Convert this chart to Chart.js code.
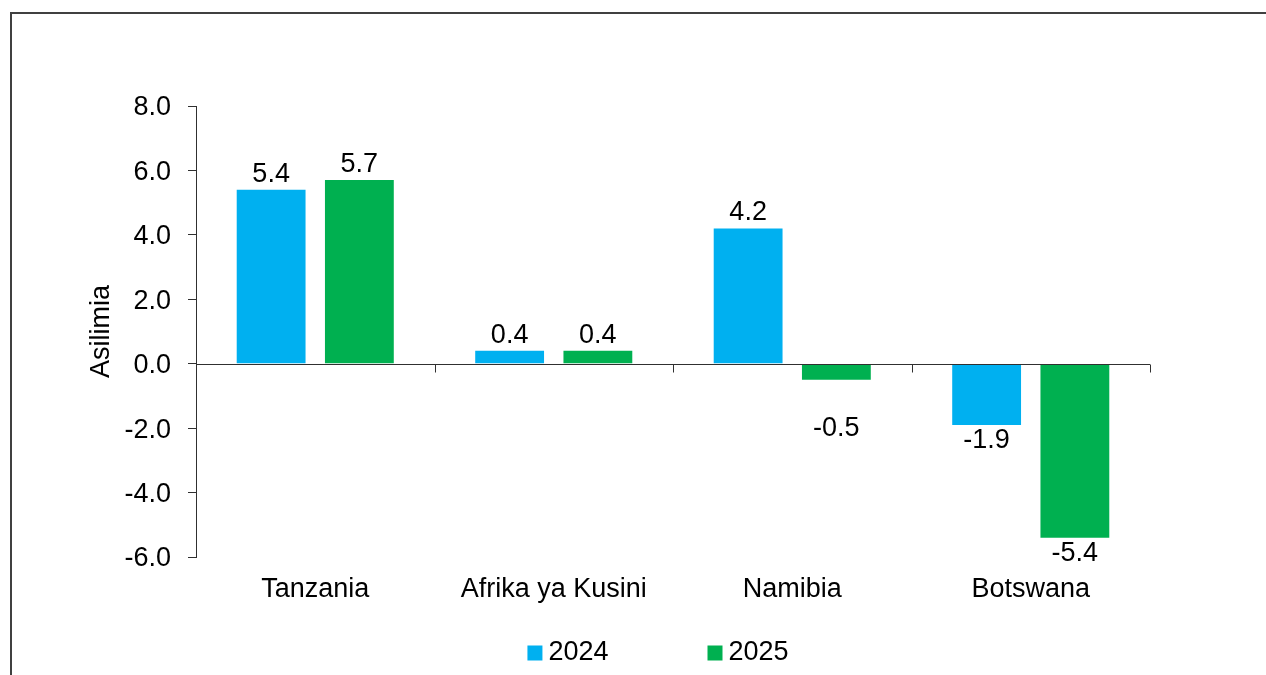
<!DOCTYPE html>
<html>
<head>
<meta charset="utf-8">
<script src="https://cdn.jsdelivr.net/npm/chart.js@4.4.1/dist/chart.umd.min.js"></script>
<style>
html, body { margin:0; padding:0; background:#fff; overflow:hidden; }
canvas { position:absolute; left:0; top:0; }
#moldura { position:absolute; left:10px; top:12px; width:1400px; height:800px; border:2px solid #404040; box-sizing:border-box; pointer-events:none; }
</style>
</head>
<body>
<canvas id="grafico" width="1266" height="675"></canvas>
<div id="moldura"></div>
<script>
// dados do grafico
var paises = ["Tanzania", "Afrika ya Kusini", "Namibia", "Botswana"];
var anos = ["2024", "2025"];
var valores2024 = [5.4, 0.4, 4.2, -1.9];
var valores2025 = [5.7, 0.4, -0.5, -5.4];
var eixoY = [-6, 8, 2]; // min, max, passo

// deslocamento extra (px) dos rotulos de valor
var ajuste2024 = [0, 0, 0, 0];
var ajuste2025 = [0, 0, 33, 0];

var fonte = '"Liberation Sans", Arial, sans-serif';
Chart.defaults.font.family = fonte;
Chart.defaults.font.size = 27;
Chart.defaults.color = '#000';

//Linha do zero com as marcas das categorias
var linhaZero = {
	id: 'linhaZero',
	afterDatasetsDraw: function(chart) {
		var ctx = chart.ctx, x = chart.scales.x, y = chart.scales.y;
		var y0 = Math.round(y.getPixelForValue(0)) + 0.5;
		var meio = (x.getPixelForValue(1) - x.getPixelForValue(0)) / 2;
		ctx.save();
		ctx.strokeStyle = '#303030';
		ctx.lineWidth = 1;
		ctx.beginPath();
		ctx.moveTo(chart.chartArea.left, y0);
		ctx.lineTo(chart.chartArea.right, y0);
		for (var i = 0; i <= paises.length; i++) {
			var px = Math.round(x.getPixelForValue(i) - meio) + 0.5;
			ctx.moveTo(px, y0);
			ctx.lineTo(px, y0 + 8);
		}
		ctx.stroke();
		ctx.restore();
	}
};

//Rotulos dos valores
var rotulos = {
	id: 'rotulos',
	afterDatasetsDraw: function(chart) {
		var ctx = chart.ctx;
		ctx.save();
		ctx.font = '27px ' + fonte;
		ctx.fillStyle = '#000';
		ctx.textAlign = 'center';
		ctx.textBaseline = 'alphabetic';
		chart.data.datasets.forEach(function(ds, d) {
			chart.getDatasetMeta(d).data.forEach(function(barra, i) {
				var v = ds.data[i];
				if (v >= 0) {
					ctx.fillText(v.toFixed(1), barra.x, barra.y - 8);
				} else {
					ctx.fillText(v.toFixed(1), barra.x, barra.y + 23 + ds.ajuste[i]);
				}
			});
		});
		ctx.restore();
	}
};

//Legenda embaixo
var legenda = {
	id: 'legenda',
	afterDraw: function(chart) {
		var ctx = chart.ctx, area = chart.chartArea;
		var caixa = 15, folga = 6, espaco = 99;
		ctx.save();
		ctx.font = '27px ' + fonte;
		ctx.textBaseline = 'middle';
		ctx.textAlign = 'left';
		var itens = chart.data.datasets.map(function(ds) {
			return { texto: ds.label, cor: ds.backgroundColor, w: ctx.measureText(ds.label).width };
		});
		var total = espaco * (itens.length - 1);
		itens.forEach(function(it) { total += caixa + folga + it.w; });
		var x = (area.left + area.right) / 2 - 15 - total / 2;
		var yc = chart.height - 23;
		itens.forEach(function(it) {
			ctx.fillStyle = it.cor;
			ctx.fillRect(x, yc - caixa / 2 + 1, caixa, caixa);
			ctx.fillStyle = '#000';
			ctx.fillText(it.texto, x + caixa + folga, yc + 1);
			x += caixa + folga + it.w + espaco;
		});
		ctx.restore();
	}
};

var config = {
	type: 'bar',
	data: {
		labels: paises,
		datasets: [{
			label: anos[0],
			data: valores2024,
			backgroundColor: '#00B0F0',
			ajuste: ajuste2024,
			barPercentage: 0.78,
			categoryPercentage: 0.74
		}, {
			label: anos[1],
			data: valores2025,
			backgroundColor: '#00B050',
			ajuste: ajuste2025,
			barPercentage: 0.78,
			categoryPercentage: 0.74
		}]
	},
	options: {
		responsive: false,
		animation: false,
		layout: { padding: { left: 81, right: 116, top: 106, bottom: 0 } },
		plugins: {
			legend: { display: false },
			tooltip: { enabled: false }
		},
		scales: {
			x: {
				afterFit: function(s) { s.height = 118; },
				grid: { display: false, drawTicks: false },
				border: { display: false },
				ticks: { padding: 16, color: '#000', maxRotation: 0 }
			},
			y: {
				min: eixoY[0],
				max: eixoY[1],
				afterFit: function(s) { s.width = 115; },
				border: { display: true, color: '#303030', width: 1 },
				grid: { display: true, drawOnChartArea: false, drawTicks: true, tickLength: 8, color: '#303030' },
				ticks: {
					stepSize: eixoY[2],
					padding: 17,
					labelOffset: 2,
					color: '#000',
					callback: function(v) { return v.toFixed(1); }
				},
				title: { display: true, text: 'Asilimia', color: '#000', padding: { top: 4, bottom: 4 } }
			}
		}
	},
	plugins: [linhaZero, rotulos, legenda]
};

var ctx = document.getElementById("grafico").getContext("2d");
window.grafico = new Chart(ctx, config);
</script>
</body>
</html>
